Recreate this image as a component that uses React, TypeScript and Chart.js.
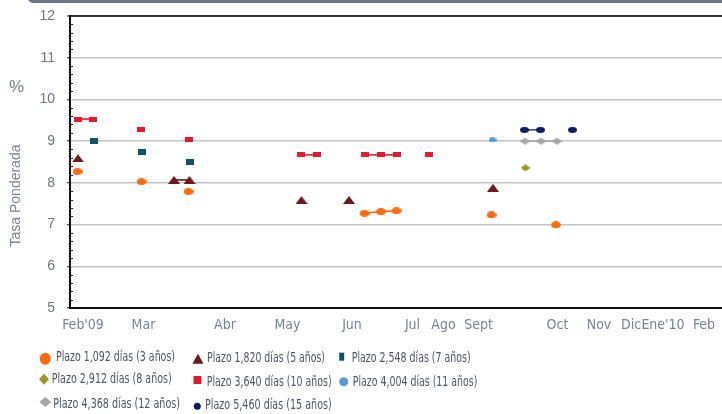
import { useEffect, useRef } from 'react';
import { Chart, registerables } from 'chart.js';

Chart.register(...registerables);

// X axis: month labels and where they sit on the (irregular) time axis
const monthLabels = ["Feb'09", 'Mar', 'Abr', 'May', 'Jun', 'Jul', 'Ago', 'Sept', 'Oct', 'Nov', 'Dic', "Ene'10", 'Feb'];
const monthPos = [2.6, 14.7, 31, 43.5, 56.4, 68.5, 74.7, 81.7, 97.5, 105.8, 112.2, 118.6, 126.8];

// Y axis
const yTicks = [5, 6, 7, 8, 9, 10, 11, 12];

const seriesLabels = [
  'Plazo 1,092 días (3 años)',
  'Plazo 1,820 días (5 años)',
  'Plazo 2,548 días (7 años)',
  'Plazo 2,912 días (8 años)',
  'Plazo 3,640 días (10 años)',
  'Plazo 4,004 días (11 años)',
  'Plazo 4,368 días (12 años)',
  'Plazo 5,460 días (15 años)',
];

// 1,092 días (3 años)
const plazo3X = [1.5, 14.3, 23.7, 58.9, 62.2, 65.3, 84.3, 97.2];
const plazo3Y = [8.27, 8.03, 7.79, 7.27, 7.31, 7.33, 7.23, 6.99];
const plazo3Link = [0, 0, 0, 1, 1, 0, 0, 0];
// 1,820 días (5 años)
const plazo5X = [1.6, 20.8, 23.9, 46.3, 55.8, 84.6];
const plazo5Y = [8.59, 8.07, 8.07, 7.59, 7.59, 7.88];
const plazo5Link = [0, 1, 0, 0, 0, 0];
// 2,548 días (7 años)
const plazo7X = [4.7, 14.4, 23.9];
const plazo7Y = [9.01, 8.75, 8.49];
const plazo7Link = [0, 0, 0];
// 2,912 días (8 años)
const plazo8X = [91.1];
const plazo8Y = [8.36];
const plazo8Link = [0];
// 3,640 días (10 años)
const plazo10X = [1.5, 4.5, 14.2, 23.7, 46.2, 49.3, 59, 62.1, 65.3, 71.7];
const plazo10Y = [9.53, 9.53, 9.28, 9.04, 8.67, 8.67, 8.67, 8.67, 8.67, 8.67];
const plazo10Link = [1, 0, 0, 0, 1, 0, 1, 1, 0, 0];
// 4,004 días (11 años)
const plazo11X = [84.5];
const plazo11Y = [9.03];
const plazo11Link = [0];
// 4,368 días (12 años)
const plazo12X = [91, 94.2, 97.4];
const plazo12Y = [9.0, 9.0, 9.0];
const plazo12Link = [1, 1, 0];
// 5,460 días (15 años)
const plazo15X = [90.9, 94.1, 100.5];
const plazo15Y = [9.27, 9.27, 9.27];
const plazo15Link = [1, 0, 0];

const AXIS_TEXT = '#7a8391';
const NARROW = "'Liberation Sans Narrow', 'DejaVu Sans Condensed', 'Liberation Sans', sans-serif";
const REGULAR = "'Liberation Sans', 'DejaVu Sans', sans-serif";

type Shape = 'ellipse' | 'rect' | 'triangle' | 'diamond';

function makeMarker(shape: Shape, w: number, h: number, color: string): HTMLCanvasElement {
  const c = document.createElement('canvas');
  c.width = w;
  c.height = h;
  const ctx = c.getContext('2d')!;
  drawShape(ctx, shape, w / 2, h / 2, w, h, color);
  return c;
}

function drawShape(ctx: CanvasRenderingContext2D, shape: Shape, cx: number, cy: number, w: number, h: number, color: string) {
  ctx.save();
  ctx.fillStyle = color;
  ctx.beginPath();
  if (shape === 'ellipse') {
    ctx.ellipse(cx, cy, w / 2, h / 2, 0, 0, Math.PI * 2);
  } else if (shape === 'rect') {
    ctx.rect(cx - w / 2, cy - h / 2, w, h);
  } else if (shape === 'triangle') {
    ctx.moveTo(cx, cy - h / 2);
    ctx.lineTo(cx + w / 2, cy + h / 2);
    ctx.lineTo(cx - w / 2, cy + h / 2);
    ctx.closePath();
  } else {
    ctx.moveTo(cx, cy - h / 2);
    ctx.lineTo(cx + w / 2, cy);
    ctx.lineTo(cx, cy + h / 2);
    ctx.lineTo(cx - w / 2, cy);
    ctx.closePath();
  }
  ctx.fill();
  ctx.restore();
}

export default function App() {
  const ref = useRef<HTMLCanvasElement>(null);

  useEffect(() => {
    document.body.style.margin = '0';

    const styles = [
      { color: '#ff6a10', line: '#ff6a10', shape: 'ellipse' as Shape, w: 10, h: 7, lw: 11, lh: 12 },
      { color: '#6b1a1e', line: '#6b1a1e', shape: 'triangle' as Shape, w: 12, h: 8, lw: 11, lh: 10 },
      { color: '#0f5561', line: '#0f5561', shape: 'rect' as Shape, w: 8, h: 6, lw: 5, lh: 8 },
      { color: '#9a9528', line: '#9a9528', shape: 'diamond' as Shape, w: 10, h: 7, lw: 10, lh: 11 },
      { color: '#e31a2f', line: '#e31a2f', shape: 'rect' as Shape, w: 8, h: 5, lw: 8, lh: 8 },
      { color: '#5b9bd5', line: '#5b9bd5', shape: 'ellipse' as Shape, w: 8, h: 5, lw: 9, lh: 9 },
      { color: '#a8a8a8', line: '#a8a8a8', shape: 'diamond' as Shape, w: 11, h: 7, lw: 12, lh: 10 },
      { color: '#0b1d5e', line: '#3a4a80', shape: 'ellipse' as Shape, w: 9, h: 6, lw: 7, lh: 7 },
    ];

    const xs = [plazo3X, plazo5X, plazo7X, plazo8X, plazo10X, plazo11X, plazo12X, plazo15X];
    const ys = [plazo3Y, plazo5Y, plazo7Y, plazo8Y, plazo10Y, plazo11Y, plazo12Y, plazo15Y];
    const links = [plazo3Link, plazo5Link, plazo7Link, plazo8Link, plazo10Link, plazo11Link, plazo12Link, plazo15Link];

    const datasets = seriesLabels.map((label, i) => {
      const st = styles[i];
      const marker = makeMarker(st.shape, st.w, st.h, st.color);
      const link = links[i];
      return {
        label,
        data: xs[i].map((x, k) => ({ x, y: ys[i][k] })),
        showLine: true,
        borderColor: st.line,
        borderWidth: 1.6,
        backgroundColor: st.color,
        pointStyle: marker,
        pointRadius: 5,
        segment: {
          borderColor: (ctx: any) => (link[ctx.p0DataIndex] ? st.line : 'rgba(0,0,0,0)'),
        },
      };
    });

    const legendSlots = [
      { mx: 45.3, my: 358.8, tx: 56, ty: 357, tw: 119 },
      { mx: 198, my: 358.7, tx: 207, ty: 358.3, tw: 118 },
      { mx: 341.7, my: 356.7, tx: 351.7, ty: 358.3, tw: 119 },
      { mx: 44, my: 379.2, tx: 51.7, ty: 379.2, tw: 120 },
      { mx: 197.5, my: 380, tx: 206.7, ty: 382.2, tw: 125 },
      { mx: 343.7, my: 381.7, tx: 352.7, ty: 382.5, tw: 124.7 },
      { mx: 45.3, my: 402, tx: 53.3, ty: 404.2, tw: 126.7 },
      { mx: 197.3, my: 406.3, tx: 205, ty: 405.8, tw: 126.7 },
    ];

    const decor = {
      id: 'decor',
      beforeDraw(chart: any) {
        const ctx = chart.ctx as CanvasRenderingContext2D;
        ctx.save();
        ctx.fillStyle = '#6b7583';
        ctx.beginPath();
        (ctx as any).roundRect(28, -7, 720, 10, 6);
        ctx.fill();
        ctx.restore();
      },
      afterDraw(chart: any) {
        const ctx = chart.ctx as CanvasRenderingContext2D;
        const y = chart.scales.y;
        const left = chart.chartArea.left;
        ctx.save();
        // minor ticks on the value axis
        ctx.strokeStyle = '#111';
        ctx.lineWidth = 1;
        for (let v = yTicks[0]; v < yTicks[yTicks.length - 1]; v += 1) {
          for (let m = 1; m < 5; m++) {
            const py = Math.round(y.getPixelForValue(v + m * 0.2)) + 0.5;
            ctx.beginPath();
            ctx.moveTo(left, py);
            ctx.lineTo(left + 3, py);
            ctx.stroke();
          }
        }
        // axis titles
        ctx.fillStyle = AXIS_TEXT;
        ctx.textAlign = 'center';
        ctx.textBaseline = 'middle';
        ctx.font = `17px ${REGULAR}`;
        ctx.fillText('%', 16.5, 87);
        ctx.save();
        ctx.translate(16, 195.5);
        ctx.rotate(-Math.PI / 2);
        ctx.font = `14px ${REGULAR}`;
        ctx.fillText('Tasa Ponderada', 0, 0);
        ctx.restore();
        // legend
        ctx.font = `14px ${NARROW}`;
        ctx.textAlign = 'left';
        chart.data.datasets.forEach((ds: any, i: number) => {
          const s = legendSlots[i];
          const st = styles[i];
          drawShape(ctx, st.shape, s.mx, s.my, st.lw, st.lh, st.color);
          ctx.fillStyle = '#4f5663';
          ctx.fillText(ds.label, s.tx, s.ty, s.tw);
        });
        ctx.restore();
      },
    };

    const chart = new Chart(ref.current!, {
      type: 'scatter',
      data: { datasets },
      options: {
        animation: false,
        responsive: true,
        maintainAspectRatio: false,
        events: [],
        layout: { autoPadding: false, padding: { top: 16, left: 0, right: 0, bottom: 0 } },
        plugins: { legend: { display: false }, tooltip: { enabled: false } },
        scales: {
          x: {
            type: 'linear',
            min: 0,
            max: 130.4,
            afterBuildTicks: (scale: any) => {
              scale.ticks = monthPos.map((v) => ({ value: v }));
            },
            afterFit: (scale: any) => {
              scale.height = 106;
              scale.paddingLeft = 0;
              scale.paddingRight = 0;
            },
            grid: { display: false, drawTicks: false },
            border: { display: true, color: '#111', width: 2 },
            ticks: {
              autoSkip: false,
              maxRotation: 0,
              padding: 9,
              color: AXIS_TEXT,
              font: { family: NARROW, size: 14 },
              callback: (_v: any, i: number) => monthLabels[i],
            },
          },
          y: {
            min: yTicks[0],
            max: yTicks[yTicks.length - 1],
            afterBuildTicks: (scale: any) => {
              scale.ticks = yTicks.map((v) => ({ value: v }));
            },
            afterFit: (scale: any) => {
              scale.width = 70;
              scale.paddingTop = 0;
              scale.paddingBottom = 0;
            },
            grid: {
              color: (c: any) => (c.tick && c.tick.value === 12 ? '#333' : '#c4c4c4'),
              lineWidth: (c: any) => (c.tick && c.tick.value === 12 ? 2 : 1.5),
              tickColor: '#111',
              tickLength: 3,
              tickWidth: 1,
            },
            border: { display: true, color: '#111', width: 2 },
            ticks: {
              padding: 12,
              color: '#6f7683',
              font: { family: REGULAR, size: 14 },
              callback: (v: any) => String(v),
            },
          },
        },
      },
      plugins: [decor],
    } as any);

    return () => chart.destroy();
  }, []);

  return (
    <div style={{ position: 'absolute', left: 0, top: 0, width: 722, height: 414 }}>
      <canvas ref={ref} />
    </div>
  );
}
